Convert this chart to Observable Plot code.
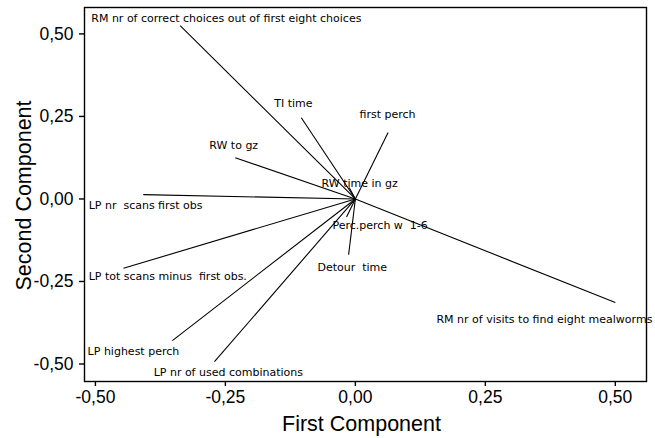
<!DOCTYPE html>
<html>
<head>
<meta charset="utf-8">
<script src="https://cdn.jsdelivr.net/npm/d3@7"></script>
<script src="https://cdn.jsdelivr.net/npm/@observablehq/plot@0.6"></script>
<style>
  html, body { margin: 0; padding: 0; background: #fff; }
  #chart svg { display: block; overflow: visible; }
</style>
</head>
<body>
<div id="chart"></div>
<script>
// Variable names (loadings biplot)
const variables = [
  "RM nr of correct choices out of first eight choices",
  "TI time",
  "first perch",
  "RW to gz",
  "RW time in gz",
  "LP nr  scans first obs",
  "LP tot scans minus  first obs.",
  "LP highest perch",
  "LP nr of used combinations",
  "Detour  time",
  "Perc.perch w  1-6",
  "RM nr of visits to find eight mealworms"
];
// First component loadings
const comp1 = [-0.337, -0.104, 0.063, -0.231, -0.012, -0.408, -0.446, -0.352, -0.271, -0.013, -0.017, 0.50];
// Second component loadings
const comp2 = [0.525, 0.246, 0.201, 0.125, 0.035, 0.013, -0.210, -0.429, -0.493, -0.169, -0.055, -0.314];
// Label anchor positions (data units)
const labelX = [-0.508, -0.156, 0.008, -0.281, -0.065, -0.513, -0.513, -0.515, -0.388, -0.073, -0.044, 0.156];
const labelY = [0.546, 0.289, 0.255, 0.161, 0.047, -0.020, -0.236, -0.463, -0.526, -0.208, -0.081, -0.366];
const ticks = [-0.5, -0.25, 0, 0.25, 0.5];

const rows = variables.map((v, i) => ({v, x: comp1[i], y: comp2[i], lx: labelX[i], ly: labelY[i]}));
const fmt = d => d3.format(".2f")(d).replace(".", ",").replace("\u2212", "-");

const chart = Plot.plot({
  width: 655,
  height: 438,
  marginLeft: 84,
  marginRight: 9,
  marginTop: 7,
  marginBottom: 57,
  style: {fontFamily: "'Liberation Sans', Arial, sans-serif", background: "#fff", overflow: "visible"},
  x: {domain: [-0.521, 0.560], ticks, tickFormat: fmt},
  y: {domain: [-0.553, 0.580], ticks, tickFormat: fmt},
  marks: [
    Plot.frame({stroke: "black", strokeWidth: 1.4}),
    Plot.axisX({ticks, tickFormat: fmt, tickSize: 5, tickPadding: 4, fontSize: 17.5, label: null, stroke: "black", strokeWidth: 1.4}),
    Plot.axisY({ticks, tickFormat: fmt, tickSize: 5, tickPadding: 6, fontSize: 17.5, label: null, stroke: "black", strokeWidth: 1.4}),
    Plot.link(rows, {x1: 0, y1: 0, x2: "x", y2: "y", stroke: "black", strokeWidth: 1.1}),
    Plot.text(rows, {x: "lx", y: "ly", text: "v", textAnchor: "start", fontSize: 11, fill: "black", fontFamily: "'DejaVu Sans', sans-serif"}),
    Plot.text([0], {frameAnchor: "bottom", text: () => "First Component", textAnchor: "middle", lineAnchor: "middle", dx: -4, dy: 43, fontSize: 21.5, fill: "black"}),
    Plot.text([0], {frameAnchor: "left", text: () => "Second Component", textAnchor: "middle", lineAnchor: "middle", rotate: -90, dx: -60, dy: 1, fontSize: 21.5, fill: "black"})
  ]
});
document.getElementById("chart").append(chart);
</script>
</body>
</html>
